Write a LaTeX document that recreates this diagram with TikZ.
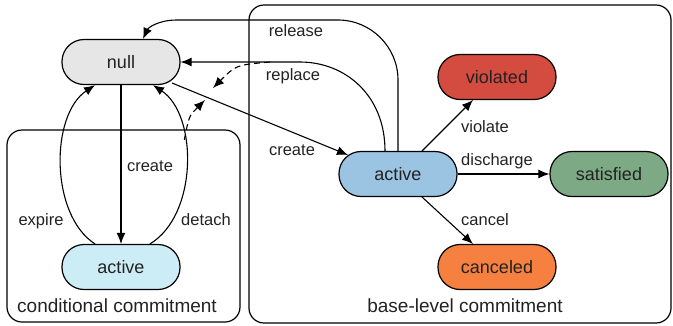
\documentclass[tikz,border=0pt]{standalone}
\usepackage{fontspec}
\setmainfont{Liberation Sans}
\usetikzlibrary{arrows.meta,calc}
\definecolor{cnull}{HTML}{E6E6E6}
\definecolor{ccact}{HTML}{CDEDF6}
\definecolor{cbact}{HTML}{9BC3E2}
\definecolor{cviol}{HTML}{D44B40}
\definecolor{csat}{HTML}{7DA985}
\definecolor{ccanc}{HTML}{F5803F}
\definecolor{ctext}{HTML}{222222}
\begin{document}
\begin{tikzpicture}[x=1pt,y=-1pt,
  state/.style={draw=black,line width=1.2pt,rounded corners=22pt,minimum width=118pt,minimum height=45pt,inner sep=0pt,font=\fontsize{18}{20}\selectfont,text=ctext},
  lbl/.style={font=\fontsize{16.5}{18}\selectfont,text=ctext,inner sep=0pt},
  title/.style={font=\fontsize{19}{21}\selectfont,text=ctext,inner sep=0pt},
  frame/.style={draw=black,line width=1.2pt,rounded corners=15pt},
  conn/.style={line width=1.1pt,-{Latex[length=11pt,width=9pt]}},
  dconn/.style={line width=1.1pt,dash pattern=on 6pt off 4pt,-{Latex[length=11pt,width=9pt,sep=0pt]}}]
\useasboundingbox (0,0) rectangle (673,325);
% frames
\draw[frame] (7,130) rectangle (240,322);
\draw[frame] (249,5) rectangle (671,323);
\node[title] (tcond) at (117,306) {conditional commitment};
\node[title] (tbase) at (465,306) {base-level commitment};
% states
\node[state,fill=cnull] (null) at (121,62) {null};
\node[state,fill=ccact] (cact) at (121,267) {active};
\node[state,fill=cbact] (bact) at (398,174) {active};
\node[state,fill=cviol] (viol) at (497,77) {violated};
\node[state,fill=csat] (sat) at (609,174) {satisfied};
\node[state,fill=ccanc] (canc) at (497,267) {canceled};
% conditional transitions
\draw[conn] (null.south) -- (cact.north);
\draw[conn] ([xshift=-26pt]cact.north) .. controls (50,215) and (50,115) .. ([xshift=-26pt]null.south);
\draw[conn] ([xshift=29pt]cact.north) .. controls (198,215) and (198,115) .. coordinate[pos=0.63] (d1) ([xshift=32pt]null.south);
% create to base
\draw[conn] ($(null.center)+(51,21)$) -- ($(bact.center)+(-50,-19)$);
% replace
\draw[conn] ([xshift=-13pt]bact.north) .. controls (385,95) and (345,62) .. (300,62) coordinate (r0) -- (null.east);
% release
\draw[conn] (bact.north) -- (398,80) .. controls (398,47) and (371,20) .. (338,20) -- (177,20) .. controls (158,20) and (148,28) .. ([xshift=22pt]null.north);
% dashed
\coordinate (r1) at (270,62);
\coordinate (m1) at (205,100);
\coordinate (m2) at (213,88);
\draw[dconn] (d1) .. controls (189,116) .. (m1);
\draw[dconn] (r1) .. controls (236,65) .. (m2);
% base transitions
\draw[conn] ($(bact.center)+(24,-23)$) -- ($(viol.center)+(-24,23)$);
\draw[conn] (bact.east) -- (sat.west);
\draw[conn] ($(bact.center)+(24,23)$) -- ($(canc.center)+(-24,-23)$);
% labels
\node[lbl] (lrel) at (296,31) {release};
\node[lbl] (lrep) at (293,76) {replace};
\node[lbl] (lcb) at (292,150) {create};
\node[lbl] (lcc) at (150,166) {create};
\node[lbl] (lexp) at (41,221) {expire};
\node[lbl] (ldet) at (206,220) {detach};
\node[lbl] (lvio) at (485,127) {violate};
\node[lbl] (ldis) at (497,161) {discharge};
\node[lbl] (lcan) at (485,220) {cancel};
\end{tikzpicture}
\end{document}
